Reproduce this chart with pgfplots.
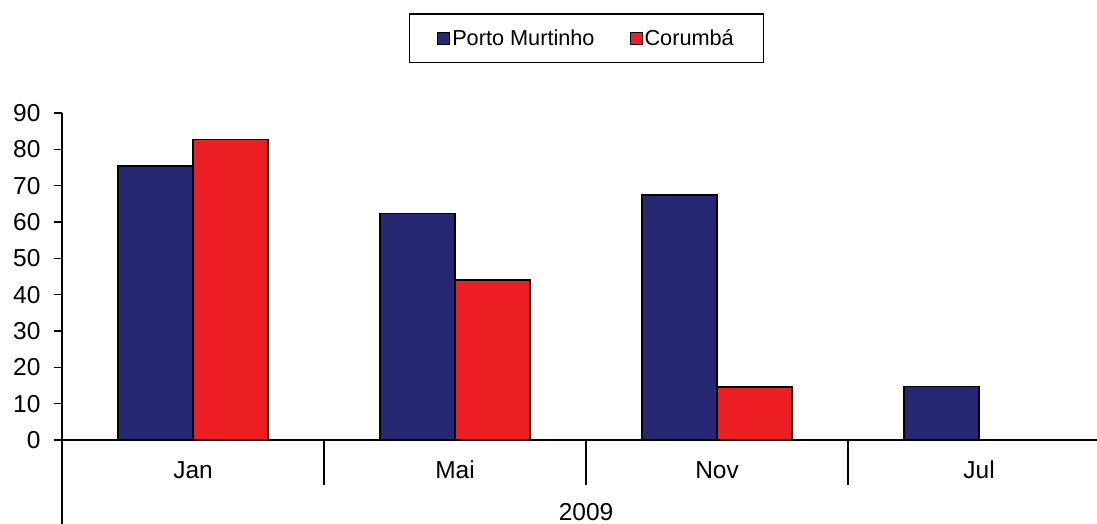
\documentclass[border=0pt]{standalone}
\usepackage{pgfplots}
\pgfplotsset{compat=1.18}
\usepackage{fontspec}
\setmainfont{Liberation Sans}
\definecolor{navy}{HTML}{262873}
\definecolor{cred}{HTML}{EE1F24}
\begin{document}
\begin{tikzpicture}
\begin{axis}[
  scale only axis,
  width=1035pt, height=327pt,
  xmin=-0.5, xmax=3.45,
  ymin=0, ymax=90,
  ytick={0,10,...,90},
  xtick={0,1,2,3},
  xticklabels={Jan,Mai,Nov,Jul},
  axis lines=left,
  axis line style={-, black, line width=1.3pt},
  x axis line style={line width=1.8pt},
  tick style={black, line width=1.3pt},
  major tick length=8pt,
  tick align=outside,
  xtick style={draw=none},
  ybar=0pt,
  bar width=75pt,
  clip=false,
  font=\fontsize{24.5}{29}\selectfont,
  /pgf/number format/assume math mode=true,
  xticklabel style={anchor=center, yshift=-22pt},
  yticklabel style={anchor=east, xshift=-10pt},
  legend columns=2,
  legend style={at={(axis description cs:0.5068,1.229)}, anchor=center,
    draw=black, line width=1.3pt, inner xsep=28pt, inner ysep=13.5pt,
    font=\fontsize{21.7}{26}\selectfont,
    /tikz/every even column/.append style={column sep=33pt}},
  legend image code/.code={\draw[#1, draw=black, line width=1pt] (0pt,-6pt) rectangle (12pt,6pt);},
]
\addplot[fill=navy, draw=black, line width=1.3pt] coordinates {(0,75.4) (1,62.4) (2,67.4) (3,14.8)};
\addplot[fill=cred, draw=black, line width=1.3pt] coordinates {(0,82.8) (1,44.0) (2,14.6)};
\legend{Porto Murtinho, Corumbá}
\coordinate (O) at (axis cs:-0.5,0);
\draw[black, line width=1.3pt] (axis cs:-0.5,0) -- ([yshift=-84pt]axis cs:-0.5,0);
\draw[black, line width=1.3pt] (axis cs:0.5,0) -- ([yshift=-45pt]axis cs:0.5,0);
\draw[black, line width=1.3pt] (axis cs:1.5,0) -- ([yshift=-45pt]axis cs:1.5,0);
\draw[black, line width=1.3pt] (axis cs:2.5,0) -- ([yshift=-45pt]axis cs:2.5,0);
\node[font=\fontsize{24.5}{29}\selectfont] at ([yshift=-72pt]axis cs:1.5,0) {2009};
\end{axis}
\pgfresetboundingbox
\path[use as bounding box] ([shift={(-62pt,-84pt)}]O) rectangle ([shift={(1035pt,440pt)}]O);
\end{tikzpicture}
\end{document}
